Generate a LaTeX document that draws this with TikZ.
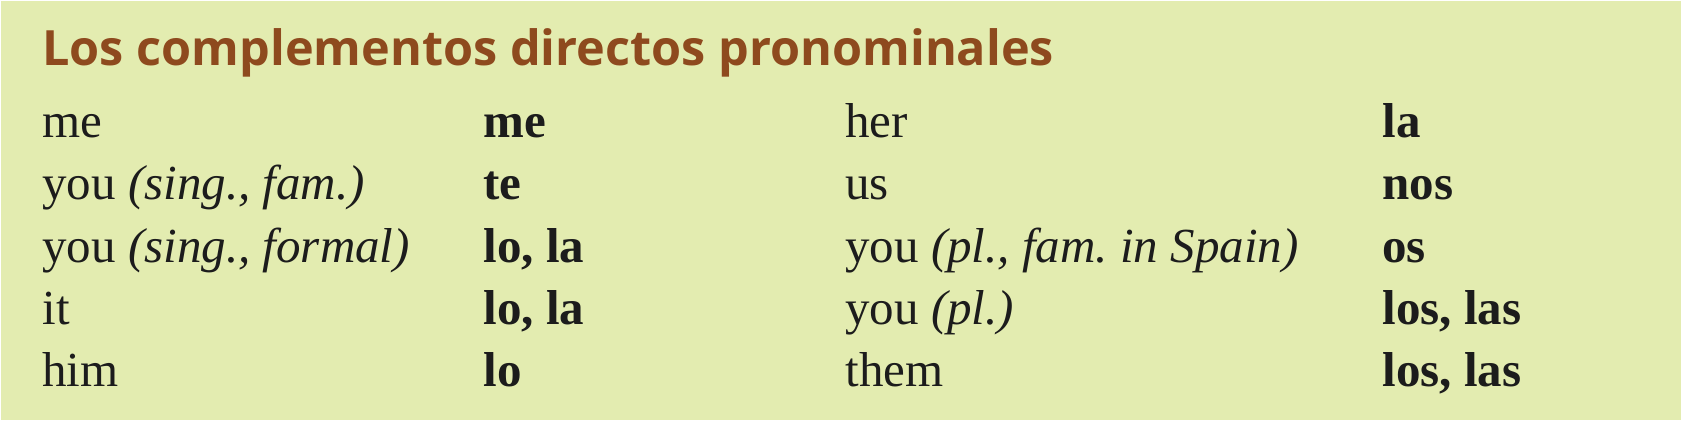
\documentclass[tikz,border=0pt]{standalone}
\usepackage{fontspec}
\setmainfont{Liberation Serif}
\newfontfamily\titlefont{Open Sans}
\usepackage{xcolor}
\definecolor{boxgreen}{RGB}{227,236,176}
\definecolor{titlebrown}{RGB}{142,74,30}
\definecolor{inkblack}{RGB}{28,28,28}
\tikzstyle{word}=[anchor=base west,inner sep=0pt,text=inkblack,font=\fontsize{24.5}{28}\selectfont]
\tikzstyle{pron}=[word,font=\fontsize{24.5}{28}\selectfont\bfseries]

\begin{document}
\begin{tikzpicture}[x=0.5pt,y=-0.5pt]

  % column and row variables
  \def\ca{42}
  \def\cb{483}
  \def\cc{845}
  \def\cd{1382}

  % box
  \useasboundingbox (0,0) rectangle (1685,420);
  \fill[boxgreen] (1,1) rectangle (1681,420);

  % title
  \node[anchor=base west,inner sep=0pt,text=titlebrown,
        font=\titlefont\fontsize{24.3}{30}\selectfont\bfseries]
    (title) at (\ca,65) {Los complementos directos pronominales};

  % left half
  \node[word] (me)    at (\ca,137) {me};
  \node[pron] (me-s)  at (\cb,137) {me};
  \node[word] (youf)  at (\ca,199) {you \textit{(sing., fam.)}};
  \node[pron] (te)    at (\cb,199) {te};
  \node[word] (youfo) at (\ca,262) {you \textit{(sing., formal)}};
  \node[pron] (lola)  at (\cb,262) {lo, la};
  \node[word] (it)    at (\ca,324) {it};
  \node[pron] (lola2) at (\cb,324) {lo, la};
  \node[word] (him)   at (\ca,386) {him};
  \node[pron] (lo)    at (\cb,386) {lo};

  % right half
  \node[word] (her)   at (\cc,137) {her};
  \node[pron] (la)    at (\cd,137) {la};
  \node[word] (us)    at (\cc,199) {us};
  \node[pron] (nos)   at (\cd,199) {nos};
  \node[word] (youpf) at (\cc,262) {you \textit{(pl., fam.\ in Spain)}};
  \node[pron] (os)    at (\cd,262) {os};
  \node[word] (youp)  at (\cc,324) {you \textit{(pl.)}};
  \node[pron] (loslas) at (\cd,324) {los, las};
  \node[word] (them)  at (\cc,386) {them};
  \node[pron] (loslas2) at (\cd,386) {los, las};

\end{tikzpicture}
\end{document}
